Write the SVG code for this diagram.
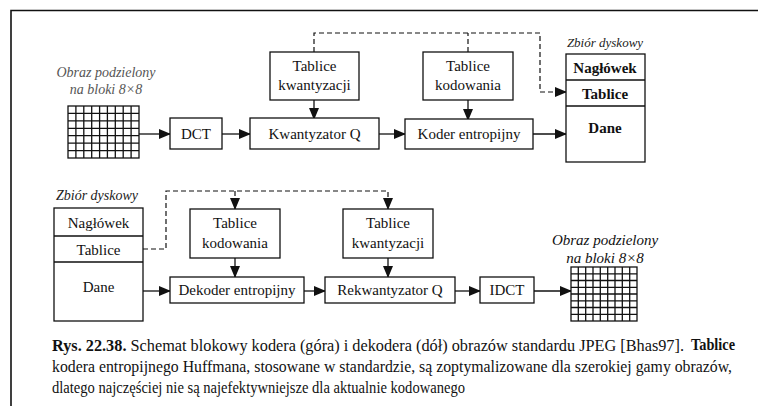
<svg xmlns="http://www.w3.org/2000/svg" width="758" height="406" viewBox="0 0 758 406">
<style>
.box{fill:#fff;stroke:#111;stroke-width:1.3}
.t{font-family:'Liberation Serif','Times New Roman',Times,'DejaVu Serif',serif;font-size:15px;fill:#111;text-anchor:middle}
.it{font-family:'Liberation Serif','Times New Roman',Times,'DejaVu Serif',serif;font-style:italic;text-anchor:middle}
.ln{stroke:#111;stroke-width:1.3;fill:none}
.dash{stroke:#111;stroke-width:1.2;fill:none;stroke-dasharray:5,3}
.grid{stroke:#111;stroke-width:1.3;fill:#fff}
.cap{font-family:'Liberation Serif','Times New Roman',Times,'DejaVu Serif',serif;font-size:16px;fill:#111}
</style>
<defs>
<marker id="ah" markerUnits="userSpaceOnUse" markerWidth="12" markerHeight="10" refX="11" refY="5" orient="auto">
<path d="M0,0 L12,5 L0,10 Z" fill="#111"/>
</marker>
</defs>
<rect width="758" height="406" fill="#fff"/>
<path d="M11,406 V10.5 H758" fill="none" stroke="#111" stroke-width="1.6"/>

<g id="connectors">
<path class="ln" d="M139,134 H170" marker-end="url(#ah)"/>
<path class="ln" d="M222,134 H250" marker-end="url(#ah)"/>
<path class="ln" d="M379,134 H405" marker-end="url(#ah)"/>
<path class="ln" d="M533,134 H566" marker-end="url(#ah)"/>
<path class="ln" d="M314,100 V119" marker-end="url(#ah)"/>
<path class="ln" d="M468,100 V120" marker-end="url(#ah)"/>
<path class="dash" d="M314,52 V33 H540 V92 H566" marker-end="url(#ah)"/>
<path class="dash" d="M468,52 V33"/>
<path class="ln" d="M143,291 H170" marker-end="url(#ah)"/>
<path class="ln" d="M304,291 H325" marker-end="url(#ah)"/>
<path class="ln" d="M455,291 H480" marker-end="url(#ah)"/>
<path class="ln" d="M534,291 H571" marker-end="url(#ah)"/>
<path class="ln" d="M235,258 V277" marker-end="url(#ah)"/>
<path class="ln" d="M388,258 V277" marker-end="url(#ah)"/>
<path class="dash" d="M143,249 H166 V191 H388 V209" marker-end="url(#ah)"/>
<path class="dash" d="M235,191 V209" marker-end="url(#ah)"/>
</g>

<g id="img-top">
<text class="it" x="106" y="77" font-size="14" fill="#555">Obraz podzielony</text>
<text class="it" x="106" y="94" font-size="14" fill="#555">na bloki 8×8</text>
<rect class="grid" x="68" y="106" width="71" height="52"/>
<path class="ln" d="M75.9,106V158M83.8,106V158M91.7,106V158M99.6,106V158M107.4,106V158M115.3,106V158M123.2,106V158M131.1,106V158M68,113.4H139M68,120.9H139M68,128.3H139M68,135.7H139M68,143.1H139M68,150.6H139"/>
</g>
<g id="dct"><rect class="box" x="170" y="118" width="52" height="31"/><text class="t" x="196" y="139">DCT</text></g>
<g id="kwant"><rect class="box" x="250" y="118" width="129" height="31"/><text class="t" x="314.5" y="139">Kwantyzator Q</text></g>
<g id="koder"><rect class="box" x="405" y="119" width="128" height="30"/><text class="t" x="469" y="139">Koder entropijny</text></g>
<g id="tk-top"><rect class="box" x="270" y="52" width="89" height="48"/><text class="t" x="314.5" y="71">Tablice</text><text class="t" x="314.5" y="90">kwantyzacji</text></g>
<g id="tkod-top"><rect class="box" x="423" y="52" width="90" height="48"/><text class="t" x="468" y="71">Tablice</text><text class="t" x="468" y="90">kodowania</text></g>
<g id="disk-top">
<text class="it" x="605" y="47" font-size="13" fill="#222">Zbiór dyskowy</text>
<rect class="box" x="566" y="54" width="79" height="108"/>
<path class="ln" d="M566,80H645M566,106H645"/>
<text class="t" x="605" y="73" font-weight="bold">Nagłówek</text>
<text class="t" x="605" y="99" font-weight="bold">Tablice</text>
<text class="t" x="605" y="133" font-weight="bold">Dane</text>
</g>

<g id="disk-bot">
<text class="it" x="97" y="200" font-size="14" fill="#222">Zbiór dyskowy</text>
<rect class="box" x="54" y="208" width="89" height="113"/>
<path class="ln" d="M54,236H143M54,262H143"/>
<text class="t" x="98.5" y="228">Nagłówek</text>
<text class="t" x="98.5" y="255">Tablice</text>
<text class="t" x="98.5" y="292">Dane</text>
</g>
<g id="tkod-bot"><rect class="box" x="190" y="209" width="90" height="49"/><text class="t" x="235" y="228">Tablice</text><text class="t" x="235" y="248">kodowania</text></g>
<g id="tk-bot"><rect class="box" x="343" y="209" width="90" height="49"/><text class="t" x="388" y="228">Tablice</text><text class="t" x="388" y="248">kwantyzacji</text></g>
<g id="dekoder"><rect class="box" x="170" y="277" width="134" height="26"/><text class="t" x="237" y="295">Dekoder entropijny</text></g>
<g id="rekw"><rect class="box" x="325" y="277" width="130" height="26"/><text class="t" x="390" y="295">Rekwantyzator Q</text></g>
<g id="idct"><rect class="box" x="480" y="277" width="54" height="26"/><text class="t" x="507" y="295">IDCT</text></g>
<g id="img-bot">
<text class="it" x="605" y="245" font-size="15" fill="#111">Obraz podzielony</text>
<text class="it" x="605" y="263" font-size="15" fill="#111">na bloki 8×8</text>
<rect class="grid" x="571" y="267" width="66" height="54"/>
<path class="ln" d="M578.3,267V321M585.7,267V321M593,267V321M600.3,267V321M607.7,267V321M615,267V321M622.3,267V321M629.7,267V321M571,273.8H637M571,280.5H637M571,287.3H637M571,294H637M571,300.8H637M571,307.5H637M571,314.3H637"/>
</g>

<g id="caption">
<text class="cap" x="52" y="351" textLength="632" lengthAdjust="spacingAndGlyphs"><tspan font-weight="bold">Rys. 22.38.</tspan> Schemat blokowy kodera (góra) i dekodera (dół) obrazów standardu JPEG [Bhas97].</text>
<text class="cap" x="691" y="350" font-size="12" font-weight="bold" textLength="44" lengthAdjust="spacingAndGlyphs">Tablice</text>
<text class="cap" x="52" y="372" textLength="680" lengthAdjust="spacingAndGlyphs">kodera entropijnego Huffmana, stosowane w standardzie, są zoptymalizowane dla szerokiej gamy obrazów,</text>
<text class="cap" x="52" y="393" textLength="413" lengthAdjust="spacingAndGlyphs">dlatego najczęściej nie są najefektywniejsze dla aktualnie kodowanego</text>
</g>
</svg>
